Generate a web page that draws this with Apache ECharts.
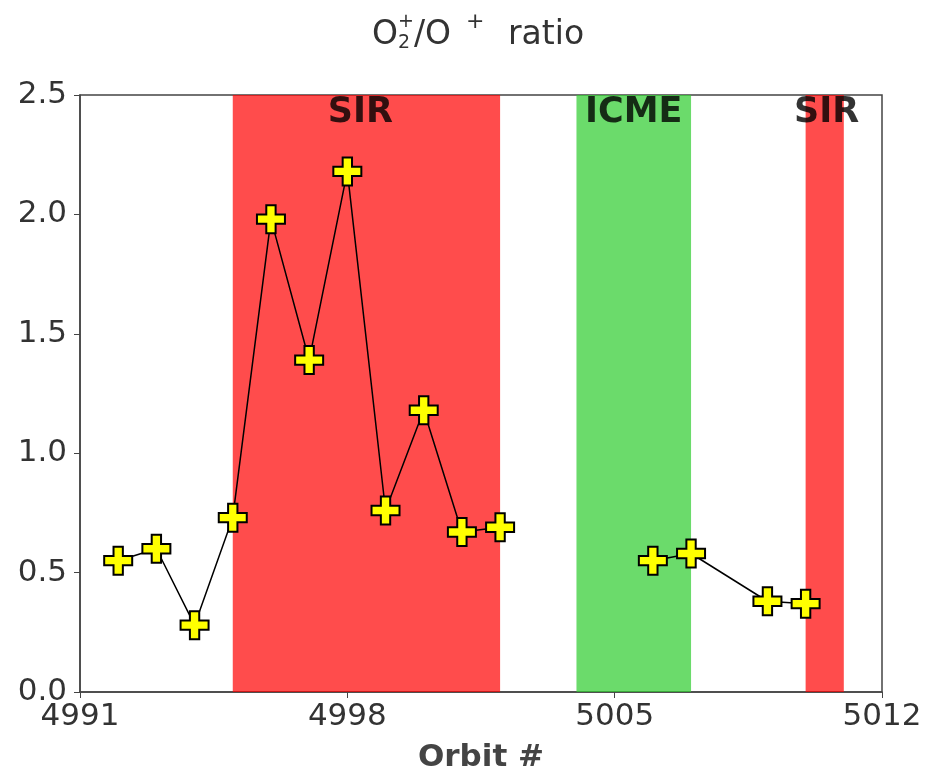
<!DOCTYPE html>
<html>
<head>
<meta charset="utf-8">
<script src="https://cdn.jsdelivr.net/npm/echarts@6/dist/echarts.min.js"></script>
<style>
  html, body { margin: 0; padding: 0; background: #fff; }
  #chart { width: 928px; height: 778px; }
</style>
</head>
<body>
<div id="chart"></div>
<script>
// orbit numbers and O2+/O+ ratio, null = gap in the line
var orbits = [4992, 4993, 4994, 4995, 4996, 4997, 4998, 4999, 5000, 5001, 5002, 5003, 5006, 5007, 5009, 5010];
var ratio = [0.55, 0.60, 0.28, 0.73, 1.98, 1.39, 2.18, 0.76, 1.18, 0.67, 0.69, null, 0.55, 0.58, 0.38, 0.37];

// shaded intervals [start, end]
var sirBands = [[4995, 5002], [5010, 5011]];
var icmeBands = [[5004, 5007]];

var xTicks = [4991, 4998, 5005, 5012];
var yTicks = [0, 0.5, 1.0, 1.5, 2.0, 2.5];

var FONT = 'DejaVu Sans';
var TXT = '#333';
var plusPath = 'path://M-1,-3 L1,-3 L1,-1 L3,-1 L3,1 L1,1 L1,3 L-1,3 L-1,1 L-3,1 L-3,-1 L-1,-1 Z';

var points = [];
for (var i = 0; i < orbits.length; i++) {
    points.push([orbits[i], ratio[i] === null ? '-' : ratio[i]]);
}

function bandLabel(offsetX) {
    return {
        show: true,
        position: 'insideTop',
        distance: 0,
        offset: [offsetX, 0],
        color: 'rgba(0,0,0,0.8)',
        fontFamily: FONT,
        fontWeight: 'bold',
        fontSize: 35
    };
}

var areas = [];
sirBands.forEach(function (b, k) {
    areas.push([
        { xAxis: b[0], name: 'SIR', itemStyle: { color: 'rgba(255,0,0,0.7)' }, label: bandLabel(k === 0 ? -6 : 2) },
        { xAxis: b[1] }
    ]);
});
icmeBands.forEach(function (b) {
    areas.push([
        { xAxis: b[0], name: 'ICME', itemStyle: { color: 'rgba(50,205,50,0.72)' }, label: bandLabel(0) },
        { xAxis: b[1] }
    ]);
});

// title O2+/O+ ratio with stacked sub/superscript
function t(text, x, y, size) {
    return {
        type: 'text', x: x, y: y,
        style: { text: text, fontFamily: FONT, fontSize: size, fill: TXT, verticalAlign: 'middle', align: 'left' }
    };
}
var titleGroup = {
    type: 'group',
    children: [
        t('O', 372, 35, 33),
        t('+', 398, 22, 19),
        t('2', 398, 43, 19),
        t('/O', 414, 35, 33),
        t('+', 466, 22, 22),
        t('ratio', 508, 35, 33)
    ]
};

var chart = echarts.init(document.getElementById('chart'));
chart.setOption({
    animation: false,
    backgroundColor: '#fff',
    graphic: [titleGroup],
    grid: {
        left: 80, right: 46, top: 95, bottom: 85,
        show: true,
        borderColor: '#444',
        borderWidth: 1.5,
        backgroundColor: 'transparent'
    },
    xAxis: {
        type: 'value',
        min: xTicks[0],
        max: xTicks[xTicks.length - 1],
        interval: xTicks[1] - xTicks[0],
        name: 'Orbit #',
        nameLocation: 'middle',
        nameGap: 50,
        nameTextStyle: { fontFamily: FONT, fontWeight: 'bold', fontSize: 31, color: '#444' },
        splitLine: { show: false },
        axisLine: { show: true, onZero: false, lineStyle: { color: '#444', width: 1.5 } },
        axisTick: { show: true, length: 6, lineStyle: { color: '#444' } },
        axisLabel: {
            fontFamily: FONT, fontSize: 31, color: TXT, margin: 9,
            formatter: function (v) { return String(v); }
        }
    },
    yAxis: {
        type: 'value',
        min: yTicks[0],
        max: yTicks[yTicks.length - 1],
        interval: 0.5,
        splitLine: { show: false },
        axisLine: { show: true, lineStyle: { color: '#444', width: 1.5 } },
        axisTick: { show: true, length: 6, lineStyle: { color: '#444' } },
        axisLabel: {
            fontFamily: FONT, fontSize: 31, color: TXT, margin: 13,
            formatter: function (v) { return v.toFixed(1); }
        }
    },
    series: [
        {
            type: 'line',
            data: [],
            z: 1,
            silent: true,
            markArea: { silent: true, data: areas }
        },
        {
            type: 'line',
            data: points,
            z: 3,
            connectNulls: false,
            lineStyle: { color: '#000', width: 1.5 },
            symbol: plusPath,
            symbolSize: 28,
            showAllSymbol: true,
            itemStyle: { color: '#ffff00', borderColor: '#000', borderWidth: 2 }
        }
    ]
});
</script>
</body>
</html>
